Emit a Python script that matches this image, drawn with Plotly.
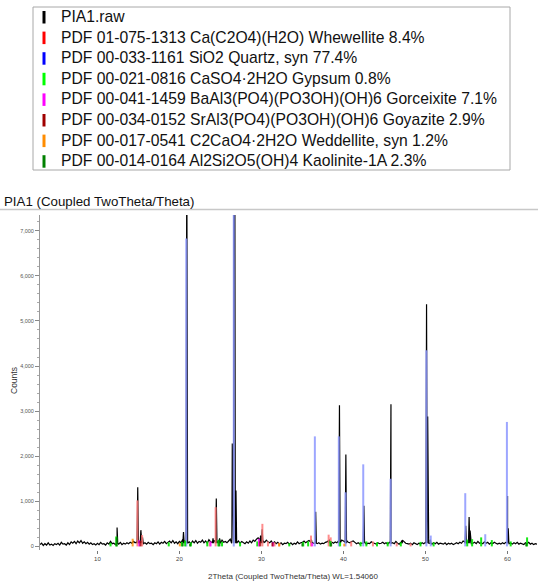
import plotly.graph_objects as go

# ---------------- data ----------------
legend_names = [
    "PIA1.raw",
    "PDF 01-075-1313 Ca(C2O4)(H2O) Whewellite 8.4%",
    "PDF 00-033-1161 SiO2 Quartz, syn 77.4%",
    "PDF 00-021-0816 CaSO4·2H2O Gypsum 0.8%",
    "PDF 00-041-1459 BaAl3(PO4)(PO3OH)(OH)6 Gorceixite 7.1%",
    "PDF 00-034-0152 SrAl3(PO4)(PO3OH)(OH)6 Goyazite 2.9%",
    "PDF 00-017-0541 C2CaO4·2H2O Weddellite, syn 1.2%",
    "PDF 00-014-0164 Al2Si2O5(OH)4 Kaolinite-1A 2.3%",
]
legend_colors = ["#000000", "#ff0000", "#0000ff", "#00ff00", "#ff00ff",
                 "#a00000", "#ff8c00", "#008000"]

# raw scan background (2theta start 3.0, step 0.2)
scan_start = 3.0
scan_step = 0.2
bg_counts = [
    40, 70, 20, 60, 30,   80, 30, 50, 20, 60,   40, 70, 30, 90, 50,
    60, 30, 80, 40, 100,  70, 110, 60, 120, 80, 130, 70, 100, 60, 90,
    50, 80, 40, 60, 30,   70, 40, 90, 50, 60,   30, 80, 50, 110, 60,
    70, 40, 60, 50, 90,   40, 70, 50, 80, 60,   90, 70, 110, 80, 100,
    90, 120, 70, 60, 80,  50, 90, 60, 70, 40,   80, 60, 100, 50, 90,
    70, 110, 60, 90, 120, 80, 130, 70, 100, 60, 110, 80, 150, 120, 90,
    70, 100, 60, 120, 80, 130, 70, 110, 90, 140, 80, 120, 70, 150, 100,
    90, 130, 110, 80, 120, 70, 140, 90, 110, 80, 120, 160, 200, 150, 100,
    80, 120, 70, 110, 90, 60, 100, 70, 120, 80, 140, 110, 160, 190, 150,
    130, 120, 90, 140, 100, 80, 120, 70, 100, 60, 90, 50, 80, 40, 70,
    60, 90, 50, 80, 40,   70, 50, 100, 60, 80,  90, 120, 80, 110, 130,
    100, 80, 70, 90, 60,  80, 50, 70, 60, 90,   100, 130, 110, 90, 70,
    100, 80, 120, 90, 140, 120, 100, 130, 90, 80, 110, 120, 90, 60, 80,
    50, 70, 60, 90, 50,   70, 60, 100, 80, 60,  50, 80, 60, 70, 90,
    60, 80, 50, 90, 70,   80, 60, 110, 70, 50,  90, 140, 100, 70, 60,
    50, 70, 40, 80, 60,   40, 70, 50, 80, 60,   90, 80, 70, 60, 50,
    80, 60, 90, 50, 70,   60, 50, 80, 40, 70,   50, 70, 40, 60, 80,
    60, 90, 70, 120, 100, 90, 110, 80, 60, 70,  90, 60, 110, 70, 80,
    60, 100, 70, 90, 50,  80, 60, 90, 70, 50,   70, 50, 80, 60, 90,
    80, 60, 70, 50, 80,   60, 90, 50, 70, 60,   40, 80, 60, 90, 50,
    70, 40, 60, 50, 60,
]
raw_peak_2theta = [12.40, 14.92, 15.30, 15.50, 20.50, 20.90, 24.10, 24.50, 24.90,
                   26.45, 26.68, 26.90, 29.90, 30.10, 36.10, 36.62, 38.30, 39.52,
                   40.30, 42.50, 45.80, 47.10, 50.14, 50.28, 50.60, 54.92, 55.33,
                   55.45, 60.02, 60.10]
raw_peak_counts = [420, 1310, 360, 200, 320, 9000, 180, 1060, 180,
                   2280, 20000, 1240, 240, 380, 150, 770, 150, 3130,
                   2040, 900, 3150, 130, 5370, 2880, 150, 460, 650,
                   350, 1120, 400]
peak_half_width = 0.08
peak_foot = 70

whewellite_2theta = [14.88, 15.45, 23.70, 24.42, 30.12, 30.80, 31.60, 32.20, 36.05,
                     38.20, 38.45, 40.95, 43.60, 46.50, 48.20]
whewellite_counts = [1020, 250, 100, 870, 500, 110, 90, 80, 240,
                     260, 200, 110, 110, 80, 70]
quartz_2theta = [20.84, 26.63, 36.52, 39.44, 40.26, 42.42, 45.76, 50.12, 50.65,
                 54.86, 57.30, 59.94]
quartz_counts = [6830, 20000, 2440, 2440, 1200, 1820, 1500, 4350, 240,
                 1180, 270, 2760]
gypsum_2theta = [11.60, 12.30, 18.70, 20.30, 20.70, 21.40, 23.40, 24.75, 25.20,
                 27.40, 29.50, 33.40, 35.10, 35.70, 38.40, 39.60, 42.10, 42.80,
                 44.10, 45.40, 47.00, 49.40, 51.00, 55.10, 55.70, 56.80, 58.10,
                 60.40, 62.40]
gypsum_counts = [80, 220, 90, 100, 130, 90, 110, 140, 100,
                 90, 110, 70, 100, 110, 120, 90, 100, 110,
                 90, 100, 90, 100, 90, 150, 160, 200, 140,
                 110, 200]
gorceixite_2theta = [15.10, 23.80, 29.70, 31.40, 36.20]
gorceixite_counts = [140, 110, 170, 90, 80]
goyazite_2theta = [15.25, 29.85, 31.35]
goyazite_counts = [120, 110, 80]
weddellite_2theta = [14.30, 20.05, 32.15, 40.10]
weddellite_counts = [170, 70, 70, 60]
kaolinite_2theta = [12.36, 20.40, 21.30, 24.88, 35.00, 38.50, 62.30]
kaolinite_counts = [200, 80, 60, 150, 70, 80, 70]

phases = [
    (whewellite_2theta, whewellite_counts, "rgba(255,120,120,0.85)"),
    (quartz_2theta, quartz_counts, "rgba(140,150,255,0.85)"),
    (gypsum_2theta, gypsum_counts, "rgba(0,230,0,0.9)"),
    (gorceixite_2theta, gorceixite_counts, "rgba(255,0,255,0.8)"),
    (goyazite_2theta, goyazite_counts, "rgba(160,0,0,0.8)"),
    (weddellite_2theta, weddellite_counts, "rgba(255,140,0,0.8)"),
    (kaolinite_2theta, kaolinite_counts, "rgba(0,128,0,0.85)"),
]

# ---------------- layout geometry ----------------
W, H = 538, 583
L, R, T, B = 40, 1, 215, 33
PW, PH = W - L - R, H - T - B


def px(xp):
    return (xp - L) / PW


def py(yp):
    return (H - B - yp) / PH


# ---------------- build raw trace ----------------
pts = [(scan_start + i * scan_step, c) for i, c in enumerate(bg_counts)]
for p, h in zip(raw_peak_2theta, raw_peak_counts):
    pts += [(p - peak_half_width, peak_foot), (p, h), (p + peak_half_width, peak_foot)]
pts.sort(key=lambda t: t[0])
raw_x = [t[0] for t in pts]
raw_y = [t[1] for t in pts]

fig = go.Figure()
fig.add_trace(go.Scatter(x=raw_x, y=raw_y, mode="lines",
                         line=dict(color="black", width=1.2), name=legend_names[0],
                         showlegend=False))

for (xs, ys, col), name in zip(phases, legend_names[1:]):
    sx, sy = [], []
    for p, h in zip(xs, ys):
        sx += [p, p, None]
        sy += [0, h, None]
    fig.add_trace(go.Scatter(x=sx, y=sy, mode="lines", line=dict(color=col, width=2),
                             name=name, showlegend=False))

# ---------------- legend box (manual) ----------------
shapes = []
annotations = []
shapes.append(dict(type="rect", xref="paper", yref="paper",
                   x0=px(33), x1=px(510), y0=py(170), y1=py(7),
                   line=dict(color="#a8a8a8", width=1), fillcolor="white", layer="below"))
row0, drow = 16.5, 20.6
for i, (name, col) in enumerate(zip(legend_names, legend_colors)):
    yc = row0 + i * drow
    shapes.append(dict(type="line", xref="paper", yref="paper",
                       x0=px(44), x1=px(44), y0=py(yc + 7), y1=py(yc - 5.5),
                       line=dict(color=col, width=3)))
    annotations.append(dict(xref="paper", yref="paper", x=px(59), y=py(yc),
                            xanchor="left", yanchor="middle", showarrow=False,
                            text=name, font=dict(family="Liberation Sans, Arial", size=15.7,
                                                 color="#111111")))

# title and separator
annotations.append(dict(xref="paper", yref="paper", x=px(2), y=py(201),
                        xanchor="left", yanchor="middle", showarrow=False,
                        text="PIA1 (Coupled TwoTheta/Theta)",
                        font=dict(family="Liberation Sans, Arial", size=13.3, color="#111111")))
shapes.append(dict(type="line", xref="paper", yref="paper",
                   x0=px(0), x1=px(538), y0=py(209.5), y1=py(209.5),
                   line=dict(color="#c8c8c8", width=1.5)))

# axis titles
annotations.append(dict(xref="paper", yref="paper", x=px(293), y=py(576.5),
                        xanchor="center", yanchor="middle", showarrow=False,
                        text="2Theta (Coupled TwoTheta/Theta) WL=1.54060",
                        font=dict(family="Liberation Sans, Arial", size=8, color="#333333")))
annotations.append(dict(xref="paper", yref="paper", x=px(14), y=py(381),
                        xanchor="center", yanchor="middle", showarrow=False, textangle=-90,
                        text="Counts",
                        font=dict(family="Liberation Sans, Arial", size=8.5, color="#333333")))

fig.update_layout(
    width=W, height=H,
    margin=dict(l=L, r=R, t=T, b=B),
    paper_bgcolor="white", plot_bgcolor="white",
    showlegend=False,
    shapes=shapes, annotations=annotations,
    xaxis=dict(range=[3.0, 3.0 + PW / 8.2], tickvals=[10, 20, 30, 40, 50, 60],
               ticks="outside", ticklen=3, tickcolor="#777777", showline=False,
               showgrid=False, zeroline=False,
               tickfont=dict(family="Liberation Sans, Arial", size=6, color="#444444")),
    yaxis=dict(range=[-80, 7350], tickvals=[0, 1000, 2000, 3000, 4000, 5000, 6000, 7000],
               ticktext=["0", "1,000", "2,000", "3,000", "4,000", "5,000", "6,000", "7,000"],
               ticks="outside", ticklen=4, tickcolor="#888888",
               showline=True, linecolor="#999999", linewidth=1,
               showgrid=False, zeroline=False,
               minor=dict(dtick=200, ticks="outside", ticklen=2, tickcolor="#aaaaaa"),
               tickfont=dict(family="Liberation Sans, Arial", size=5.5, color="#555555")),
)

fig.write_html("out.html", config={"displayModeBar": False},
               post_script="document.body.style.margin='0px';document.body.style.overflow='hidden';")
